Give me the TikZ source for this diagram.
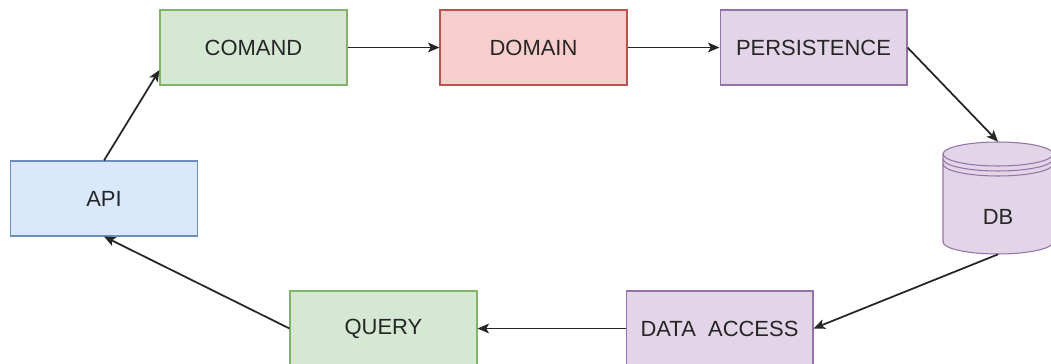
\documentclass[tikz,border=0pt]{standalone}
\usepackage{fontspec}
\setmainfont{Liberation Sans}
\usetikzlibrary{arrows.meta}
\definecolor{grnfill}{HTML}{D5E8D4}\definecolor{grnline}{HTML}{82B366}
\definecolor{redfill}{HTML}{F8CECC}\definecolor{redline}{HTML}{B85450}
\definecolor{purfill}{HTML}{E1D5E7}\definecolor{purline}{HTML}{9673A6}
\definecolor{blufill}{HTML}{DAE8FC}\definecolor{bluline}{HTML}{6C8EBF}
\definecolor{txtgray}{HTML}{262626}
\tikzset{
    layer/.style={rectangle,draw,line width=0.6pt,minimum width=3.74cm,minimum height=1.5cm,
        text=txtgray,font=\fontsize{12.5}{15}\selectfont},
    flow/.style={-{Stealth[length=6.5pt,width=5.5pt,inset=1.5pt]},line width=1pt,draw=black!85}
}
\begin{document}
\begin{tikzpicture}[x=0.02cm,y=-0.02cm]
        \clip(0,0)rectangle(1051,364);
        \fill[white](0,0)rectangle(1051,364);
        \node[layer,fill=grnfill,draw=grnline](cmd)at(253.5,47.5){COMAND};
        \node[layer,fill=redfill,draw=redline](dom)at(533.5,47.5){DOMAIN};
        \node[layer,fill=purfill,draw=purline](pers)at(813.5,47.5){PERSISTENCE};
        \node[layer,fill=blufill,draw=bluline](api)at(104,198.5){API};
        \node[layer,fill=grnfill,draw=grnline](qry)at(383.5,328.5){QUERY};
        \node[layer,fill=purfill,draw=purline](dal)at(719.5,328.5){DATA\ \ ACCESS};
        % database drum
        \filldraw[fill=purfill,draw=purline,line width=0.6pt](943,154)--(943,242)
            arc[start angle=180,end angle=360,x radius=1.1cm,y radius=0.24cm]--(1053,154)
            arc[start angle=0,end angle=180,x radius=1.1cm,y radius=0.24cm]--cycle;
        \foreach \y in {154,159,164} \draw[purline,line width=0.6pt](943,\y)arc[start angle=180,end angle=360,x radius=1.1cm,y radius=0.24cm];
        \node[minimum width=2.2cm,minimum height=2.24cm,inner sep=0pt](db)at(998,198){};
        \node[text=txtgray,font=\fontsize{12.5}{15}\selectfont](dbtxt)at(998,217){DB};
        \draw[flow](api.north)--(cmd.west|-0,70);
        \draw[flow](cmd)--(dom);
        \draw[flow](dom)--(pers);
        \draw[flow](pers.east)--(db.north);
        \draw[flow](db.south)--(dal.east);
        \draw[flow](dal)--(qry);
        \draw[flow](qry.west)--(api.south);
    \end{tikzpicture}
\end{document}
